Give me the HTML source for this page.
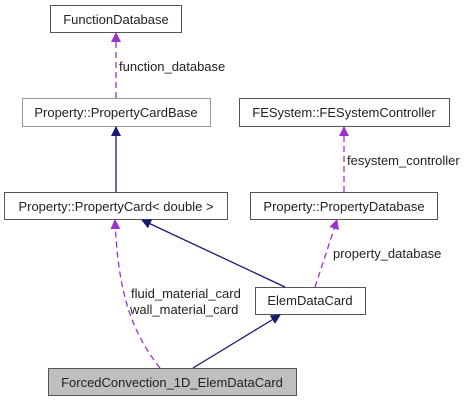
<!DOCTYPE html>
<html><head><style>body{margin:0;background:#fff}svg{display:block}text{font-family:"Liberation Sans",sans-serif;font-size:13px;fill:#222}</style></head>
<body>
<svg width="469" height="403" viewBox="0 0 469 403">
<defs>
<marker id="bl" markerWidth="10" markerHeight="10" refX="9" refY="5" orient="auto" markerUnits="userSpaceOnUse"><path d="M0,0 L10,5 L0,10 z" fill="#191970"/></marker>
<marker id="pu" markerWidth="10" markerHeight="10" refX="9" refY="5" orient="auto" markerUnits="userSpaceOnUse"><path d="M0,0 L10,5 L0,10 z" fill="#9a32cd"/></marker>
</defs>
<g fill="#fff" stroke="#555" stroke-width="1">
<rect x="50.5" y="5.5" width="131" height="27"/>
<rect x="22.5" y="98.5" width="188" height="28" stroke="#999"/>
<rect x="239.5" y="98.5" width="210" height="28"/>
<rect x="4.5" y="192.5" width="223" height="27"/>
<rect x="250.5" y="192.5" width="187" height="27"/>
<rect x="255.5" y="287.5" width="110" height="27"/>
<rect x="48.5" y="368.5" width="248" height="27" fill="#bfbfbf"/>
</g>
<g text-anchor="middle">
<text x="116" y="24">FunctionDatabase</text>
<text x="116" y="117">Property::PropertyCardBase</text>
<text x="344" y="117">FESystem::FESystemController</text>
<text x="116" y="211">Property::PropertyCard&lt; double &gt;</text>
<text x="344" y="211">Property::PropertyDatabase</text>
<text x="310" y="305">ElemDataCard</text>
<text x="172" y="387">ForcedConvection_1D_ElemDataCard</text>
</g>
<g fill="none" stroke-width="1.3">
<path d="M116,98 L116,33" stroke="#9a32cd" stroke-dasharray="6,4" marker-end="url(#pu)"/>
<path d="M116,192 L116,127" stroke="#191970" marker-end="url(#bl)"/>
<path d="M344,192 L344,127" stroke="#9a32cd" stroke-dasharray="6,4" marker-end="url(#pu)"/>
<path d="M315,287 L337,220" stroke="#9a32cd" stroke-dasharray="6,4" marker-end="url(#pu)"/>
<path d="M285,287 L142,220" stroke="#191970" marker-end="url(#bl)"/>
<path d="M160,368 C130,330 118,290 115,220" stroke="#9a32cd" stroke-dasharray="6,4" marker-end="url(#pu)"/>
<path d="M193,368 L280,315" stroke="#191970" marker-end="url(#bl)"/>
</g>
<text x="119" y="71">function_database</text>
<text x="347" y="165">fesystem_controller</text>
<text x="333" y="258">property_database</text>
<text x="131" y="298">fluid_material_card</text>
<text x="130" y="314">wall_material_card</text>
</svg>
</body></html>
